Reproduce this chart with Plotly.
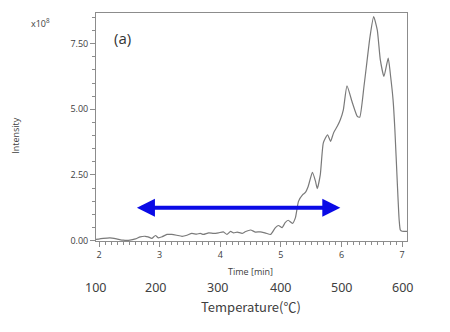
import plotly.graph_objects as go

# Elution profile: retention time [min] vs intensity [x10^8]
time_min = [1.95, 2.07, 2.18, 2.29, 2.40, 2.51, 2.60, 2.68, 2.76, 2.81, 2.87, 2.93, 2.98,
            3.04, 3.12, 3.20, 3.28, 3.37, 3.45, 3.53, 3.61, 3.67, 3.72, 3.81, 3.89, 3.97,
            4.05, 4.11, 4.17, 4.22, 4.28, 4.36, 4.41, 4.50, 4.58, 4.66, 4.75, 4.83, 4.91,
            4.96, 5.02, 5.07, 5.12, 5.19, 5.24, 5.29, 5.36, 5.40, 5.45, 5.52, 5.57, 5.60,
            5.65, 5.70, 5.77, 5.82, 5.87, 5.93, 5.98, 6.03, 6.09, 6.18, 6.26, 6.30, 6.37,
            6.41, 6.47, 6.53, 6.59, 6.64, 6.70, 6.77, 6.81, 6.85, 6.88, 6.92, 6.95, 6.97,
            7.00, 7.08]
intensity = [0.04, 0.08, 0.10, 0.06, 0.01, 0.01, 0.06, 0.14, 0.16, 0.14, 0.08, 0.19, 0.10,
             0.14, 0.23, 0.23, 0.20, 0.16, 0.20, 0.27, 0.24, 0.27, 0.23, 0.29, 0.27, 0.29,
             0.33, 0.23, 0.35, 0.29, 0.32, 0.27, 0.33, 0.40, 0.32, 0.33, 0.28, 0.23, 0.49,
             0.57, 0.49, 0.68, 0.77, 0.65, 0.87, 1.49, 1.75, 1.82, 2.06, 2.60, 2.26, 1.98,
             2.51, 3.72, 4.03, 3.78, 4.11, 4.35, 4.60, 4.98, 5.89, 5.24, 4.73, 4.70, 5.87,
             6.63, 7.77, 8.53, 8.02, 6.88, 6.25, 6.95, 6.25, 5.36, 4.22, 2.20, 0.80, 0.40,
             0.35, 0.35]

# Temperature scale aligned to the time ticks
temp_time = [2, 3, 4, 5, 6, 7]
temp_labels = ["100", "200", "300", "400", "500", "600"]

# Range marked by the double arrow
arrow_start = 2.60
arrow_end = 5.98
arrow_level = 1.25

y_ticks = [0, 2.5, 5.0, 7.5]

grey = "#8c8c8c"
text_grey = "#404040"
small_font = dict(family="Open Sans, Noto Sans, sans-serif", size=9, color=text_grey)

fig = go.Figure()
fig.add_trace(go.Scatter(
    x=time_min, y=intensity, mode="lines",
    line=dict(color="#7a7a7a", width=1.2, shape="spline", smoothing=0.5),
    hoverinfo="skip", showlegend=False,
))

fig.update_layout(
    width=450, height=332,
    margin=dict(l=96, r=43, t=13, b=91),
    paper_bgcolor="white", plot_bgcolor="white",
    xaxis=dict(
        range=[1.95, 7.08], tickvals=temp_time, ticktext=[str(t) for t in temp_time],
        showgrid=False, zeroline=False, showline=True, linecolor=grey, linewidth=1,
        mirror=True, ticks="outside", ticklen=5, tickcolor=grey, tickfont=small_font,
        minor=dict(dtick=0.1, ticks="outside", ticklen=3, tickcolor=grey),
    ),
    yaxis=dict(
        range=[-0.02, 8.67], tickvals=y_ticks, tickformat=".2f",
        showgrid=False, zeroline=False, showline=True, linecolor=grey, linewidth=1,
        mirror=True, ticks="outside", ticklen=5, tickcolor=grey, tickfont=small_font,
        minor=dict(dtick=0.5, ticks="outside", ticklen=3, tickcolor=grey),
    ),
)

annotations = [
    dict(x=arrow_end, y=arrow_level, ax=arrow_start, ay=arrow_level,
         xref="x", yref="y", axref="x", ayref="y", text="",
         showarrow=True, arrowside="end+start", arrowhead=2, arrowsize=0.9,
         arrowwidth=4, arrowcolor="#0a0ae6"),
    dict(x=2.39, y=7.72, xref="x", yref="y", text="(a)", showarrow=False,
         font=dict(family="Open Sans, sans-serif", size=15, color="#333333")),
    dict(x=-0.177, y=0.956, xref="paper", yref="paper", xanchor="center", yanchor="middle",
         text="x10<sup>8</sup>", showarrow=False, font=small_font),
    dict(x=-0.285, y=0.465, xref="paper", yref="paper", text="Intensity", textangle=-90,
         showarrow=False, font=small_font),
    dict(x=4.5, y=0, xref="x", yref="paper", yanchor="top", yshift=-22,
         text="Time [min]", showarrow=False, font=small_font),
    dict(x=4.5, y=0, xref="x", yref="paper", yanchor="top", yshift=-54,
         text="Temperature(℃)", showarrow=False,
         font=dict(family="Noto Sans CJK JP, sans-serif", size=13, color=text_grey)),
]
for t, lab in zip(temp_time, temp_labels):
    annotations.append(dict(x=t, y=0, xref="x", yref="paper", yanchor="top", yshift=-36,
                            xshift=-4 if t < 4 else (-3 if t == 4 else 0),
                            text=lab, showarrow=False,
                            font=dict(family="Noto Sans, sans-serif", size=12.5, color=text_grey)))
fig.update_layout(annotations=annotations)

fig.write_html("out.html")
